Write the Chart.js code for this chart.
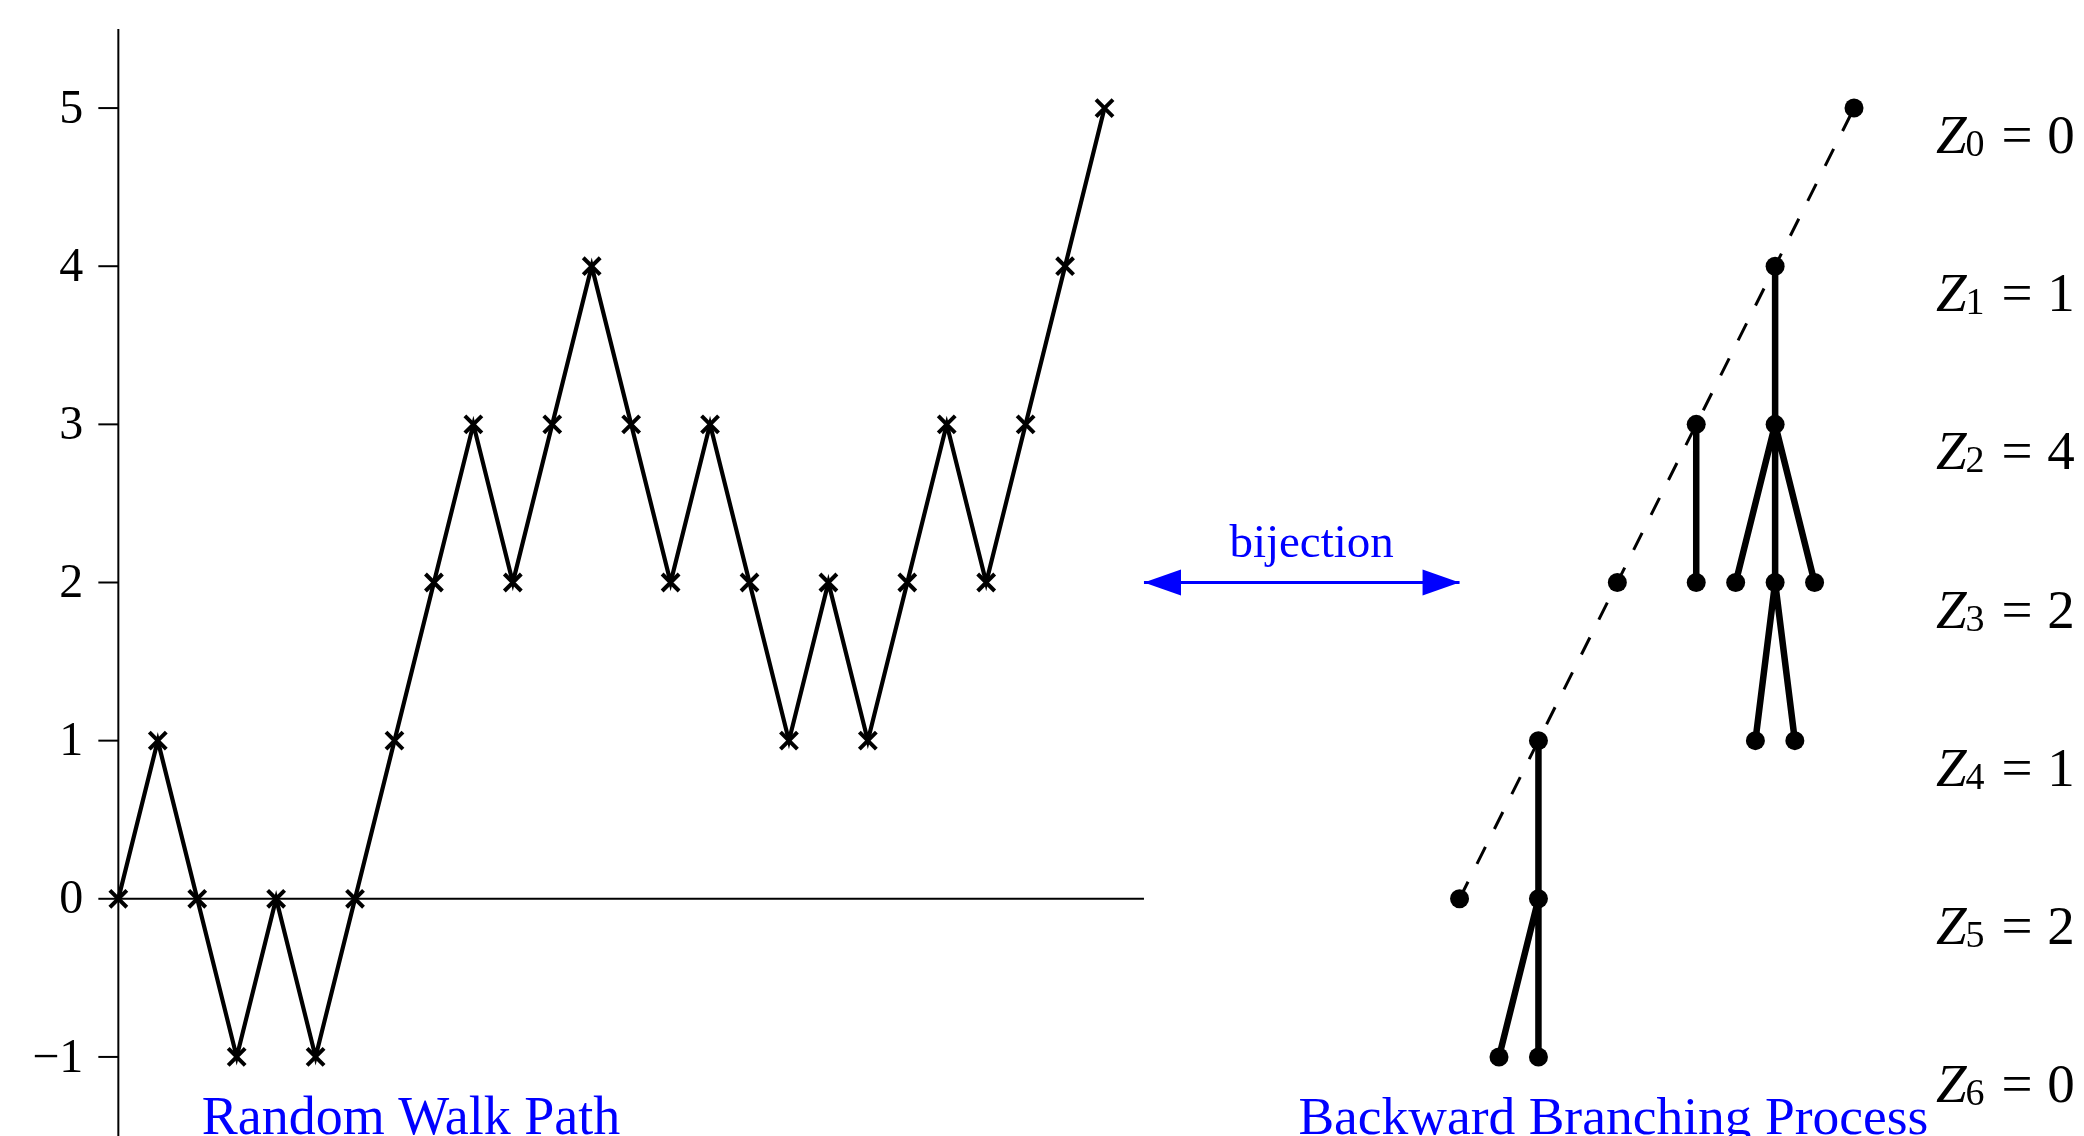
<!DOCTYPE html>
<html>
<head>
<meta charset="utf-8">
<script src="https://cdn.jsdelivr.net/npm/chart.js@4.4.1/dist/chart.umd.min.js"></script>
<style>
  html, body { margin: 0; padding: 0; background: #fff; }
</style>
</head>
<body>
<canvas id="walkChart" width="2084" height="1136"></canvas>
<script>
// random walk heights, one per step (step index is the x value)
const walkValues = [0, 1, 0, -1, 0, -1, 0, 1, 2, 3, 2, 3, 4, 3, 2, 3, 2, 1, 2, 1, 2, 3, 2, 3, 4, 5];
const yTicks = [-1, 0, 1, 2, 3, 4, 5];
const xAxisSpan = [0, 26];

// backward branching tree nodes
const treeX = [44, 42, 40, 42, 38, 40, 41, 42, 43, 41.5, 42.5, 36, 34, 36, 35, 36];
const treeY = [5, 4, 3, 3, 2, 2, 2, 2, 2, 1, 1, 1, 0, 0, -1, -1];
// parent -> child, by node index
const treeEdges = [[1, 3], [3, 6], [3, 7], [3, 8], [2, 5], [7, 9], [7, 10], [11, 13], [13, 14], [13, 15]];
const dashedPath = [12, 0];

const zValues = [0, 1, 4, 2, 1, 2, 0];
const bijectionSpan = [26, 34];
const bijectionLevel = 2;

const SERIF = '"Liberation Serif", "Times New Roman", serif';
const BLUE = '#0000ff';

const node = i => ({ x: treeX[i], y: treeY[i] });

const edgeData = [];
treeEdges.forEach(([a, b]) => {
    edgeData.push(node(a), node(b), { x: treeX[b], y: null });
});

// y axis at x = 0, drawn through the scales
const yAxisAtZero = {
    id: 'yAxisAtZero',
    beforeDatasetsDraw(chart) {
        const { ctx, chartArea, scales: { x, y } } = chart;
        const ax = x.getPixelForValue(0);
        ctx.save();
        ctx.strokeStyle = '#000';
        ctx.lineWidth = 2;
        ctx.beginPath();
        ctx.moveTo(ax, chartArea.top);
        ctx.lineTo(ax, chartArea.bottom);
        ctx.stroke();
        ctx.fillStyle = '#000';
        ctx.font = '48px ' + SERIF;
        ctx.textAlign = 'right';
        ctx.textBaseline = 'middle';
        yTicks.forEach(v => {
            const py = y.getPixelForValue(v);
            ctx.beginPath();
            ctx.moveTo(ax - 20, py);
            ctx.lineTo(ax, py);
            ctx.stroke();
            const label = v < 0 ? '\u2212' + Math.abs(v) : String(v);
            ctx.fillText(label, ax - 35, py + 2);
        });
        ctx.restore();
    }
};

// arrowheads + text labels, placed through the scales
const overlay = {
    id: 'overlay',
    afterDatasetsDraw(chart) {
        const { ctx, scales: { x, y } } = chart;
        ctx.save();

        // bijection arrow heads
        const ay = y.getPixelForValue(bijectionLevel);
        const l = x.getPixelForValue(bijectionSpan[0]);
        const r = x.getPixelForValue(bijectionSpan[1]);
        ctx.fillStyle = BLUE;
        ctx.beginPath();
        ctx.moveTo(l, ay); ctx.lineTo(l + 37, ay - 13); ctx.lineTo(l + 37, ay + 13);
        ctx.closePath(); ctx.fill();
        ctx.beginPath();
        ctx.moveTo(r, ay); ctx.lineTo(r - 37, ay - 13); ctx.lineTo(r - 37, ay + 13);
        ctx.closePath(); ctx.fill();

        ctx.textAlign = 'center';
        ctx.textBaseline = 'alphabetic';
        ctx.font = '47px ' + SERIF;
        ctx.fillText('bijection', x.getPixelForValue(30.25), ay - 26);

        ctx.font = '54px ' + SERIF;
        ctx.fillText('Random Walk Path', x.getPixelForValue(7.42), 1134);
        ctx.font = '53.5px ' + SERIF;
        ctx.fillText('Backward Branching Process', x.getPixelForValue(37.9), 1134);

        // Z_i = value column
        ctx.fillStyle = '#000';
        const zx = x.getPixelForValue(46.08);
        zValues.forEach((v, i) => {
            const base = y.getPixelForValue(5 - i) + 45;
            ctx.textAlign = 'left';
            ctx.font = 'italic 55px ' + SERIF;
            ctx.fillText('Z', zx, base);
            ctx.textAlign = 'center';
            ctx.font = '38px ' + SERIF;
            ctx.fillText(String(i), zx + 39, base + 3);
            ctx.font = '55px ' + SERIF;
            ctx.fillText('=', zx + 81, base);
            ctx.fillText(String(v), zx + 125, base);
        });
        ctx.restore();
    }
};

new Chart(document.getElementById('walkChart'), {
    type: 'line',
    data: {
        datasets: [
            {
                label: 'tree nodes',
                type: 'scatter',
                data: treeX.map((_, i) => node(i)),
                pointStyle: 'circle',
                pointRadius: 9.5,
                backgroundColor: '#000',
                borderColor: '#000',
                borderWidth: 0,
                order: 0,
                clip: false
            },
            {
                label: 'tree edges',
                data: edgeData,
                borderColor: '#000',
                borderWidth: 6.5,
                pointRadius: 0,
                spanGaps: false,
                order: 1,
                clip: false
            },
            {
                label: 'dashed path',
                data: dashedPath.map(node),
                borderColor: '#000',
                borderWidth: 3,
                borderDash: [19, 20],
                pointRadius: 0,
                order: 2,
                clip: false
            },
            {
                label: 'random walk',
                data: walkValues.map((v, i) => ({ x: i, y: v })),
                borderColor: '#000',
                borderWidth: 4.2,
                pointStyle: 'crossRot',
                pointRadius: 12,
                pointBorderWidth: 4,
                pointBorderColor: '#000',
                order: 3,
                clip: false
            },
            {
                label: 'x axis',
                data: xAxisSpan.map(v => ({ x: v, y: 0 })),
                borderColor: '#000',
                borderWidth: 2,
                pointRadius: 0,
                order: 4,
                clip: false
            },
            {
                label: 'bijection',
                data: bijectionSpan.map(v => ({ x: v, y: bijectionLevel })),
                borderColor: BLUE,
                borderWidth: 3,
                pointRadius: 0,
                order: 5,
                clip: false
            }
        ]
    },
    options: {
        responsive: false,
        animation: false,
        layout: { autoPadding: false, padding: { top: 29, left: 0, right: 0, bottom: 0 } },
        plugins: {
            legend: { display: false },
            tooltip: { enabled: false }
        },
        scales: {
            x: { type: 'linear', min: -3, max: 49.83, display: false },
            y: { type: 'linear', min: -1.5, max: 5.5, display: false }
        }
    },
    plugins: [yAxisAtZero, overlay]
});
</script>
</body>
</html>
